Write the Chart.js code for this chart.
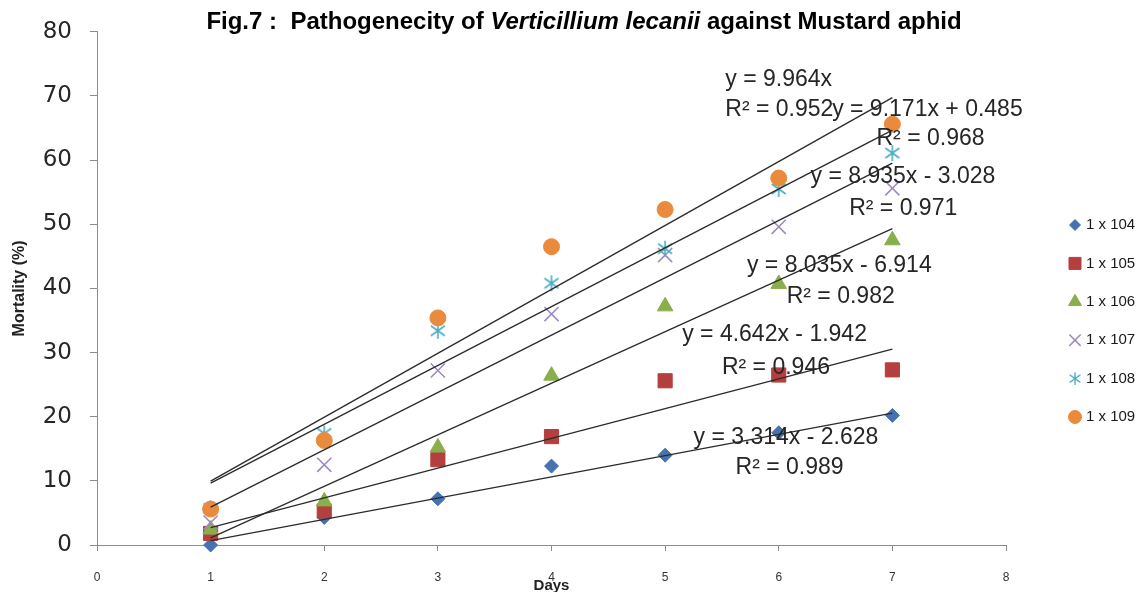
<!DOCTYPE html>
<html>
<head>
<meta charset="utf-8">
<script src="https://cdn.jsdelivr.net/npm/chart.js@4/dist/chart.umd.min.js"></script>
<style>
  html, body { margin: 0; padding: 0; background: #fff; }
  #wrap { width: 1141px; height: 592px; position: relative; }
</style>
</head>
<body>
<div id="wrap"><canvas id="mortalityChart"></canvas></div>
<script>
// days after spraying and % mortality for each spore dose
const days = [1, 2, 3, 4, 5, 6, 7];
const doseLabels = ['1 x 104', '1 x 105', '1 x 106', '1 x 107', '1 x 108', '1 x 109'];
const mort1e4 = [0, 4.3, 7.2, 12.3, 14.0, 17.5, 20.2];
const mort1e5 = [1.8, 5.3, 13.3, 16.9, 25.6, 26.5, 27.3];
const mort1e6 = [2.4, 6.8, 15.2, 26.4, 37.2, 40.7, 47.5];
const mort1e7 = [3.5, 12.5, 27.2, 36.0, 45.2, 49.6, 55.6];
const mort1e8 = [5.7, 17.4, 33.4, 40.8, 46.2, 55.5, 61.1];
const mort1e9 = [5.6, 16.3, 35.4, 46.5, 52.3, 57.2, 65.6];

// linear trendlines (y = a x + b) and their R²
const slopes = [3.314, 4.642, 8.035, 8.935, 9.171, 9.964];
const intercepts = [-2.628, -1.942, -6.914, -3.028, 0.485, 0];
const rSquared = ['0.989', '0.946', '0.982', '0.971', '0.968', '0.952'];

const xTicks = [0, 1, 2, 3, 4, 5, 6, 7, 8];
const yTicks = [0, 10, 20, 30, 40, 50, 60, 70, 80];

const series = [mort1e4, mort1e5, mort1e6, mort1e7, mort1e8, mort1e9];
const colors = ['#4672b0', '#b3403e', '#8aae4c', '#9c88c0', '#4bacc6', '#ea8a3c'];

// Excel style asterisk: vertical stroke plus an X
const asterisk = document.createElement('canvas');
asterisk.width = 18;
asterisk.height = 18;
const ac = asterisk.getContext('2d');
ac.strokeStyle = '#4bacc6';
ac.lineWidth = 1.6;
ac.beginPath();
ac.moveTo(9, 1); ac.lineTo(9, 17);
ac.moveTo(2, 4); ac.lineTo(16, 14);
ac.moveTo(16, 4); ac.lineTo(2, 14);
ac.stroke();

const markers = ['rectRot', 'rect', 'triangle', 'crossRot', asterisk, 'circle'];
const markerSize = [7, 10, 9, 10, 9, 8];
const legendSize = [5.5, 8.5, 7.5, 8, 7, 6.5];

// where the trendline equations sit, in days / mortality units
const eqPos = [
  { x: 5.25, y: 16.8, rx: 5.62, ry: 12.1 },
  { x: 5.15, y: 32.8, rx: 5.5, ry: 27.7 },
  { x: 5.72, y: 43.5, rx: 6.07, ry: 38.7 },
  { x: 6.28, y: 57.4, rx: 6.62, ry: 52.5 },
  { x: 6.47, y: 67.9, rx: 6.86, ry: 63.3 },
  { x: 5.53, y: 72.6, rx: 5.53, ry: 67.9 }
];

const datasets = [];
series.forEach((vals, i) => {
  datasets.push({
    label: doseLabels[i],
    data: days.map((d, k) => ({ x: d, y: vals[k] })),
    showLine: false,
    pointStyle: markers[i],
    pointRadius: markerSize[i],
    pointHoverRadius: markerSize[i],
    backgroundColor: colors[i],
    borderColor: colors[i],
    pointBorderWidth: i === 3 ? 1.5 : 1,
    clip: false,
    order: 6 - i
  });
});
slopes.forEach((a, i) => {
  const first = days[0], last = days[days.length - 1];
  datasets.push({
    label: 'trend ' + doseLabels[i],
    data: [{ x: first, y: a * first + intercepts[i] }, { x: last, y: a * last + intercepts[i] }],
    showLine: true,
    borderColor: '#2b2b2b',
    borderWidth: 1.3,
    pointRadius: 0,
    pointHoverRadius: 0,
    order: 0
  });
});

const fmt = v => v.toFixed(3);
const equation = i => {
  let s = 'y = ' + fmt(slopes[i]) + 'x';
  if (intercepts[i] > 0) s += ' + ' + fmt(intercepts[i]);
  if (intercepts[i] < 0) s += ' - ' + fmt(-intercepts[i]);
  return s;
};

const textLayer = {
  id: 'textLayer',
  afterDraw(chart) {
    const ctx = chart.ctx;
    const xs = chart.scales.x, ys = chart.scales.y;
    ctx.save();

    // trendline equations
    ctx.fillStyle = '#262626';
    ctx.font = '23px "Liberation Sans", Arial, sans-serif';
    ctx.textBaseline = 'middle';
    ctx.textAlign = 'left';
    eqPos.forEach((p, i) => {
      ctx.fillText(equation(i), xs.getPixelForValue(p.x), ys.getPixelForValue(p.y));
      ctx.fillText('R² = ' + rSquared[i], xs.getPixelForValue(p.rx), ys.getPixelForValue(p.ry));
    });

    // title with italic species name
    const parts = [
      ['bold', 'Fig.7 :  Pathogenecity of '],
      ['italic bold', 'Verticillium lecanii'],
      ['bold', ' against Mustard aphid']
    ];
    const family = ' 24px "Liberation Sans", Arial, sans-serif';
    let total = 0;
    parts.forEach(p => { ctx.font = p[0] + family; total += ctx.measureText(p[1]).width; });
    let tx = 584 - total / 2;
    ctx.fillStyle = '#000';
    parts.forEach(p => {
      ctx.font = p[0] + family;
      ctx.fillText(p[1], tx, 22);
      tx += ctx.measureText(p[1]).width;
    });

    // legend
    ctx.font = '15px "Liberation Sans", Arial, sans-serif';
    doseLabels.forEach((lab, i) => {
      const y = 225 + i * 38.4;
      ctx.fillStyle = colors[i];
      ctx.strokeStyle = colors[i];
      ctx.lineWidth = i === 3 ? 1.5 : 1;
      if (markers[i] === asterisk) {
        ctx.drawImage(asterisk, 1068, y - 7, 14, 14);
      } else {
        Chart.helpers.drawPoint(ctx, { pointStyle: markers[i], radius: legendSize[i], borderWidth: 1, rotation: 0 }, 1075, y);
      }
      ctx.fillStyle = '#1a1a1a';
      ctx.fillText(lab, 1086, y);
    });
    ctx.restore();
  }
};

new Chart(document.getElementById('mortalityChart'), {
  type: 'scatter',
  data: { datasets: datasets },
  plugins: [textLayer],
  options: {
    responsive: true,
    maintainAspectRatio: false,
    animation: false,
    events: [],
    layout: { padding: { top: 29, right: 135, left: 0, bottom: 0 } },
    plugins: {
      legend: { display: false },
      tooltip: { enabled: false },
      title: { display: false }
    },
    scales: {
      x: {
        type: 'linear',
        min: 0,
        max: 8,
        afterBuildTicks: s => { s.ticks = xTicks.map(v => ({ value: v })); },
        afterFit: s => { s.height = 47; },
        border: { color: '#8c8c8c', width: 1 },
        grid: { drawOnChartArea: false, drawTicks: true, tickLength: 6, tickColor: '#8c8c8c' },
        ticks: { padding: 19, color: '#333', font: { family: '"Liberation Sans", sans-serif', size: 12 } },
        title: {
          display: true,
          text: 'Days',
          color: '#222',
          padding: { top: 0, bottom: -3 },
          font: { family: '"Liberation Sans", Arial, sans-serif', size: 15, weight: 'bold' }
        }
      },
      y: {
        type: 'linear',
        min: 0,
        max: 80,
        afterBuildTicks: s => { s.ticks = yTicks.map(v => ({ value: v })); },
        afterFit: s => { s.width = 97; },
        border: { color: '#8c8c8c', width: 1 },
        grid: { drawOnChartArea: false, drawTicks: true, tickLength: 7, tickColor: '#8c8c8c' },
        ticks: { padding: 18, color: '#262626', font: { family: '"DejaVu Sans", Verdana, sans-serif', size: 23 } },
        title: {
          display: true,
          text: 'Mortality (%)',
          color: '#222',
          padding: { top: 10, bottom: 0 },
          font: { family: '"Liberation Sans", Arial, sans-serif', size: 16, weight: 'bold' }
        }
      }
    }
  }
});
</script>
</body>
</html>
